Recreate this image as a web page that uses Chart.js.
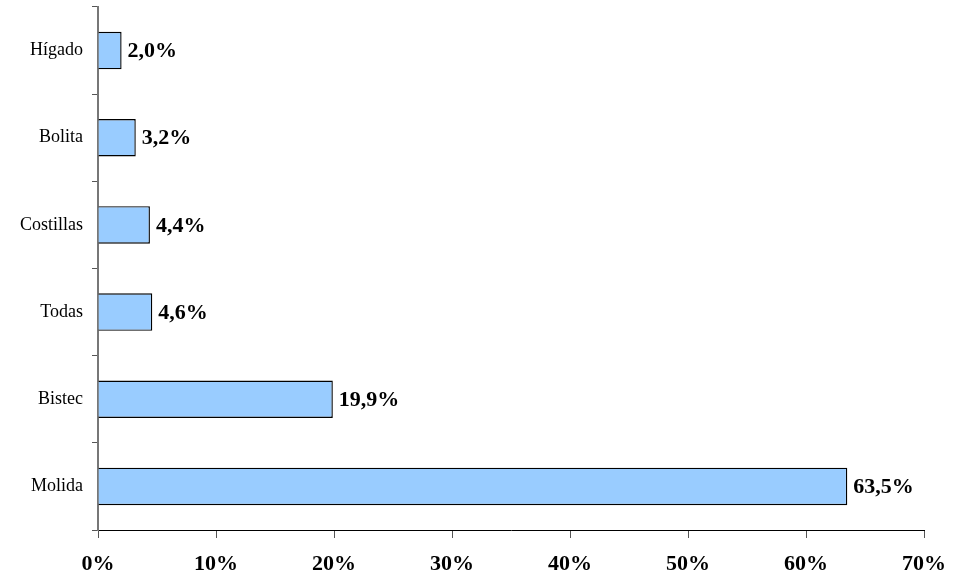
<!DOCTYPE html>
<html lang="es">
<head>
    <meta charset="UTF-8">
    <title>Tipo de carne</title>
    <script src="https://cdn.jsdelivr.net/npm/chart.js"></script>
    <style>
        html, body { margin: 0; padding: 0; background: #fff; }
        .chart-container { width: 966px; height: 574px; }
    </style>
</head>
<body>
<div class="chart-container">
    <canvas id="carneChart"></canvas>
</div>
<script>
    // Data (top to bottom)
    const categories = ['Hígado', 'Bolita', 'Costillas', 'Todas', 'Bistec', 'Molida'];
    const percentages = [2.0, 3.2, 4.4, 4.6, 19.9, 63.5];
    const xTicks = [0, 10, 20, 30, 40, 50, 60, 70];

    const serif = '"Liberation Serif", "Times New Roman", serif';

    // value labels at the end of each bar, e.g. "63,5%"
    const valueLabels = {
        id: 'valueLabels',
        afterDatasetsDraw(chart) {
            const ctx = chart.ctx;
            const meta = chart.getDatasetMeta(0);
            ctx.save();
            ctx.font = 'bold 22px ' + serif;
            ctx.fillStyle = '#000';
            ctx.textAlign = 'left';
            ctx.textBaseline = 'middle';
            meta.data.forEach((bar, i) => {
                const txt = percentages[i].toFixed(1).replace('.', ',') + '%';
                ctx.fillText(txt, bar.x + 6, bar.y + 1);
            });
            ctx.restore();
        }
    };

    new Chart(document.getElementById('carneChart').getContext('2d'), {
        type: 'bar',
        data: {
            labels: categories,
            datasets: [{
                data: percentages,
                backgroundColor: '#99ccff',
                borderColor: '#000',
                borderWidth: 1.4,
                barPercentage: 0.43,
                categoryPercentage: 1
            }]
        },
        options: {
            indexAxis: 'y',
            responsive: true,
            maintainAspectRatio: false,
            animation: false,
            layout: { padding: { top: 7, right: 42, left: 0, bottom: 0 } },
            plugins: {
                legend: { display: false },
                tooltip: { enabled: false }
            },
            scales: {
                x: {
                    min: 0,
                    max: 70,
                    afterBuildTicks(scale) {
                        scale.ticks = xTicks.map(v => ({ value: v }));
                    },
                    afterFit(scale) { scale.height = 44; },
                    grid: {
                        drawOnChartArea: false,
                        drawTicks: true,
                        tickLength: 8,
                        color: '#555'
                    },
                    border: { color: '#000', width: 1 },
                    ticks: {
                        padding: 13,
                        maxRotation: 0,
                        color: '#000',
                        font: { family: serif, size: 22, weight: 'bold' },
                        callback: v => v + '%'
                    }
                },
                y: {
                    afterFit(scale) {
                        scale.width = 98;
                        // labels sit mid-band, no extra room needed above/below
                        scale.paddingTop = 0;
                        scale.paddingBottom = 0;
                    },
                    grid: {
                        offset: true,
                        drawOnChartArea: false,
                        drawTicks: true,
                        tickLength: 6,
                        color: '#555'
                    },
                    border: { color: '#777', width: 2 },
                    ticks: {
                        padding: 9,
                        color: '#000',
                        font: { family: serif, size: 18 }
                    }
                }
            }
        },
        plugins: [valueLabels]
    });
</script>
</body>
</html>
